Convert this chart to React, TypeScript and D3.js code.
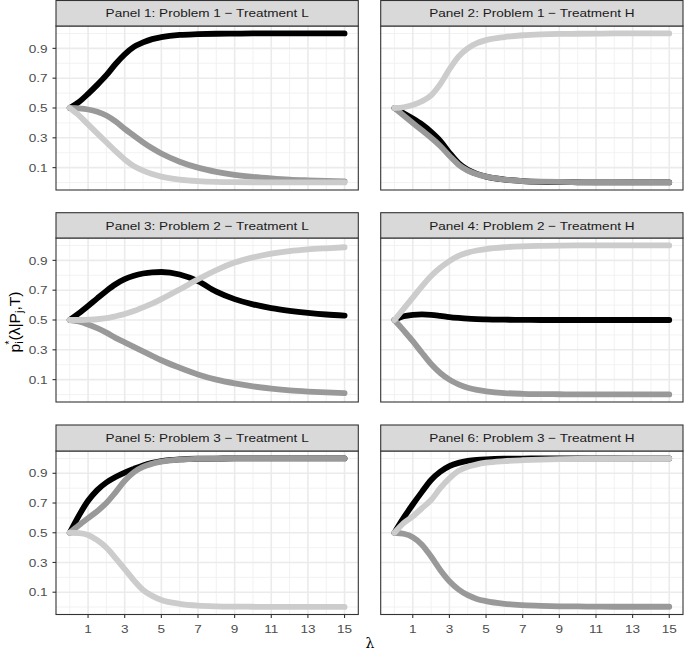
import React from "react";
import * as d3 from "d3";

const lambdas = [0, 0.5, 1, 1.5, 2, 2.5, 3, 3.5, 4, 4.5, 5, 6, 7, 8, 9, 10, 11, 12, 13, 14, 15];

const panelTitles = [
  "Panel 1: Problem 1 \u2212 Treatment L",
  "Panel 2: Problem 1 \u2212 Treatment H",
  "Panel 3: Problem 2 \u2212 Treatment L",
  "Panel 4: Problem 2 \u2212 Treatment H",
  "Panel 5: Problem 3 \u2212 Treatment L",
  "Panel 6: Problem 3 \u2212 Treatment H",
];

const p1Black = [0.5, 0.54, 0.595, 0.655, 0.72, 0.795, 0.86, 0.91, 0.94, 0.962, 0.975, 0.99, 0.995, 0.998, 0.999, 1, 1, 1, 1, 1, 1];
const p1Dark = [0.5, 0.497, 0.49, 0.475, 0.45, 0.41, 0.36, 0.315, 0.27, 0.23, 0.195, 0.14, 0.1, 0.072, 0.052, 0.038, 0.028, 0.02, 0.015, 0.011, 0.008];
const p1Light = [0.5, 0.45, 0.39, 0.33, 0.27, 0.21, 0.155, 0.11, 0.08, 0.057, 0.04, 0.02, 0.01, 0.005, 0.003, 0.002, 0.0015, 0.001, 0.001, 0.001, 0.001];

const p2Black = [0.5, 0.465, 0.43, 0.39, 0.34, 0.28, 0.2, 0.13, 0.085, 0.058, 0.04, 0.02, 0.01, 0.005, 0.003, 0.002, 0.001, 0.001, 0.001, 0.001, 0.001];
const p2Dark = [0.5, 0.45, 0.4, 0.35, 0.3, 0.245, 0.18, 0.12, 0.08, 0.056, 0.04, 0.02, 0.01, 0.006, 0.004, 0.003, 0.002, 0.002, 0.001, 0.001, 0.001];
const p2Light = [0.5, 0.505, 0.52, 0.545, 0.585, 0.66, 0.76, 0.845, 0.9, 0.935, 0.955, 0.976, 0.988, 0.994, 0.997, 0.998, 0.999, 1, 1, 1, 1];

const p3Black = [0.5, 0.545, 0.594, 0.645, 0.695, 0.74, 0.774, 0.797, 0.812, 0.82, 0.822, 0.805, 0.76, 0.69, 0.64, 0.605, 0.58, 0.562, 0.548, 0.537, 0.53];
const p3Dark = [0.5, 0.49, 0.47, 0.445, 0.415, 0.38, 0.35, 0.32, 0.29, 0.26, 0.23, 0.18, 0.135, 0.1, 0.075, 0.055, 0.04, 0.028, 0.02, 0.014, 0.01];
const p3Light = [0.5, 0.5, 0.502, 0.505, 0.512, 0.525, 0.54, 0.56, 0.585, 0.61, 0.64, 0.705, 0.773, 0.835, 0.885, 0.92, 0.945, 0.962, 0.973, 0.981, 0.988];

const p4Black = [0.5, 0.525, 0.535, 0.538, 0.535, 0.528, 0.52, 0.514, 0.509, 0.506, 0.504, 0.502, 0.501, 0.5, 0.5, 0.5, 0.5, 0.5, 0.5, 0.5, 0.5];
const p4Dark = [0.5, 0.43, 0.358, 0.28, 0.205, 0.145, 0.1, 0.068, 0.045, 0.031, 0.022, 0.01, 0.005, 0.003, 0.002, 0.001, 0.001, 0.001, 0.001, 0.001, 0.001];
const p4Light = [0.5, 0.575, 0.65, 0.725, 0.795, 0.85, 0.895, 0.93, 0.952, 0.966, 0.976, 0.988, 0.994, 0.997, 0.999, 1, 1, 1, 1, 1, 1];

const p5Black = [0.5, 0.615, 0.715, 0.787, 0.838, 0.875, 0.905, 0.93, 0.953, 0.97, 0.982, 0.994, 0.998, 0.999, 1, 1, 1, 1, 1, 1, 1];
const p5Dark = [0.5, 0.55, 0.598, 0.645, 0.7, 0.772, 0.85, 0.907, 0.943, 0.964, 0.978, 0.992, 0.997, 0.999, 1, 1, 1, 1, 1, 1, 1];
const p5Light = [0.5, 0.498, 0.485, 0.45, 0.4, 0.33, 0.255, 0.18, 0.115, 0.075, 0.048, 0.022, 0.01, 0.005, 0.003, 0.002, 0.001, 0.001, 0.001, 0.001, 0.001];

const p6Black = [0.5, 0.6, 0.69, 0.775, 0.855, 0.91, 0.948, 0.97, 0.983, 0.99, 0.994, 0.998, 0.999, 1, 1, 1, 1, 1, 1, 1, 1];
const p6Dark = [0.5, 0.493, 0.47, 0.42, 0.34, 0.25, 0.174, 0.118, 0.08, 0.055, 0.04, 0.022, 0.013, 0.008, 0.005, 0.004, 0.003, 0.002, 0.002, 0.002, 0.002];
const p6Light = [0.5, 0.565, 0.61, 0.665, 0.72, 0.8, 0.866, 0.916, 0.944, 0.96, 0.971, 0.982, 0.988, 0.992, 0.995, 0.997, 0.998, 0.999, 1, 1, 1];

const panelSeries = [
  [p1Black, p1Dark, p1Light],
  [p2Black, p2Dark, p2Light],
  [p3Black, p3Dark, p3Light],
  [p4Black, p4Dark, p4Light],
  [p5Black, p5Dark, p5Light],
  [p6Black, p6Dark, p6Light],
];
const seriesColors = ["#000000", "#999999", "#cccccc"];

const xMajor = [1, 3, 5, 7, 9, 11, 13, 15];
const xMinor = [0, 2, 4, 6, 8, 10, 12, 14];
const yMajor = [0.1, 0.3, 0.5, 0.7, 0.9];
const yMinor = [0, 0.2, 0.4, 0.6, 0.8, 1.0];

const W = 685;
const H = 653;
const cols = [
  [56, 358.3],
  [380.7, 683],
];
const rows = [
  { stripTop: 0.5, top: 26, bottom: 190 },
  { stripTop: 212.7, top: 238, bottom: 402 },
  { stripTop: 425, top: 451, bottom: 614.5 },
];
const FONT = "Liberation Sans, Arial, Helvetica, sans-serif";
const SX = 1.15;

function Panel({ idx }: { idx: number }) {
  const c = idx % 2;
  const r = Math.floor(idx / 2);
  const [x0, x1] = cols[c];
  const row = rows[r];
  const x = d3.scaleLinear().domain([-0.75, 15.75]).range([x0, x1]);
  const y = d3.scaleLinear().domain([-0.05, 1.05]).range([row.bottom, row.top]);
  const line = d3
    .line<number>()
    .x((_, i) => x(lambdas[i]))
    .y((v) => y(v))
    .curve(d3.curveMonotoneX);
  const series = panelSeries[idx];
  return (
    <g>
      <rect x={x0} y={row.top} width={x1 - x0} height={row.bottom - row.top} fill="#fff" />
      {yMinor.map((v) => (
        <line key={"ym" + v} x1={x0} x2={x1} y1={y(v)} y2={y(v)} stroke="#f0f0f0" strokeWidth={0.9} />
      ))}
      {xMinor.map((v) => (
        <line key={"xm" + v} y1={row.top} y2={row.bottom} x1={x(v)} x2={x(v)} stroke="#f0f0f0" strokeWidth={0.9} />
      ))}
      {yMajor.map((v) => (
        <line key={"yM" + v} x1={x0} x2={x1} y1={y(v)} y2={y(v)} stroke="#ebebeb" strokeWidth={1.6} />
      ))}
      {xMajor.map((v) => (
        <line key={"xM" + v} y1={row.top} y2={row.bottom} x1={x(v)} x2={x(v)} stroke="#ebebeb" strokeWidth={1.6} />
      ))}
      <g clipPath={`url(#clip${idx})`}>
        {series.map((s, i) => (
          <path
            key={i}
            d={line(s) || ""}
            fill="none"
            stroke={seriesColors[i]}
            strokeWidth={5.8}
            strokeLinecap="round"
            strokeLinejoin="round"
          />
        ))}
      </g>
      <rect x={x0} y={row.top} width={x1 - x0} height={row.bottom - row.top} fill="none" stroke="#333" strokeWidth={1.1} />
      <rect x={x0} y={row.stripTop} width={x1 - x0} height={row.top - row.stripTop} fill="#d9d9d9" stroke="#333" strokeWidth={1.1} />
      <text
        transform={`translate(${(x0 + x1) / 2},${(row.stripTop + row.top) / 2}) scale(${SX},1)`}
        textAnchor="middle"
        dominantBaseline="central"
        fontSize={11.8}
        fill="#1a1a1a"
        fontFamily={FONT}
      >
        {panelTitles[idx]}
      </text>
      {c === 0 &&
        yMajor.map((v) => (
          <g key={"yt" + v}>
            <line x1={x0 - 3.5} x2={x0} y1={y(v)} y2={y(v)} stroke="#333" strokeWidth={1.1} />
            <text
              transform={`translate(${x0 - 8.5},${y(v)}) scale(${SX},1)`}
              textAnchor="end"
              dominantBaseline="central"
              fontSize={11.8}
              fill="#4d4d4d"
              fontFamily={FONT}
            >
              {v.toFixed(1)}
            </text>
          </g>
        ))}
      {r === 2 &&
        xMajor.map((v) => (
          <g key={"xt" + v}>
            <line x1={x(v)} x2={x(v)} y1={row.bottom} y2={row.bottom + 3.5} stroke="#333" strokeWidth={1.1} />
            <text
              transform={`translate(${x(v)},${row.bottom + 14.5}) scale(${SX},1)`}
              textAnchor="middle"
              dominantBaseline="central"
              fontSize={11.8}
              fill="#4d4d4d"
              fontFamily={FONT}
            >
              {v}
            </text>
          </g>
        ))}
      <defs>
        <clipPath id={`clip${idx}`}>
          <rect x={x0} y={row.top} width={x1 - x0} height={row.bottom - row.top} />
        </clipPath>
      </defs>
    </g>
  );
}

export default function App() {
  return (
    <svg
      width={W}
      height={H}
      viewBox={`0 0 ${W} ${H}`}
      style={{ position: "absolute", left: 0, top: 0, background: "#fff" }}
    >
      <rect x={0} y={0} width={W} height={H} fill="#fff" />
      {panelTitles.map((_, i) => (
        <Panel key={i} idx={i} />
      ))}
      <text
        transform="translate(20,322) rotate(-90) scale(1.08,1)"
        textAnchor="middle"
        fontSize={14.5}
        fill="#000"
        fontFamily={FONT}
      >
        <tspan>p</tspan>
        <tspan fontSize={10} dy={3}>i</tspan>
        <tspan fontSize={10} dx={-3} dy={-10}>*</tspan>
        <tspan dy={7}>(λ|P</tspan>
        <tspan fontSize={10} dy={3}>j</tspan>
        <tspan dy={-3}>,T)</tspan>
      </text>
      <text x={370} y={648} textAnchor="middle" fontSize={14} fill="#000" fontFamily="DejaVu Serif, serif">
        λ
      </text>
    </svg>
  );
}
